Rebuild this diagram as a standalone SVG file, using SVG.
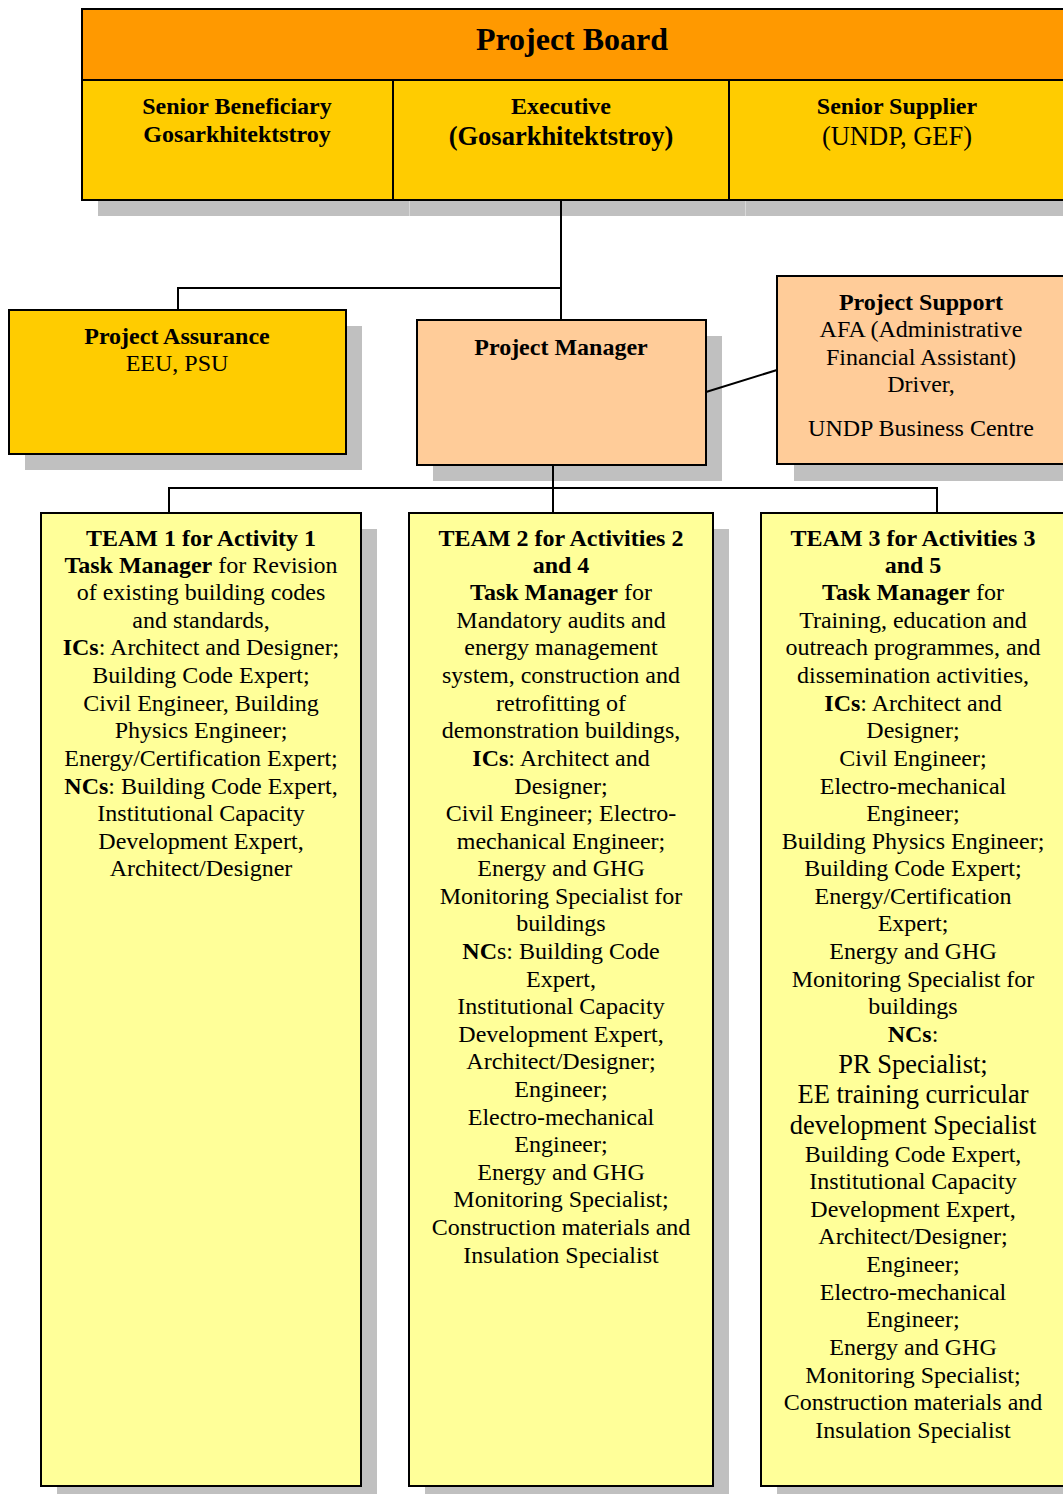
<svg xmlns="http://www.w3.org/2000/svg" width="1063" height="1494" viewBox="0 0 1063 1494">
<style>
text{font-family:"Liberation Serif","Times New Roman",serif;fill:#000;text-anchor:middle}
.b{font-weight:bold}
.t{font-size:24px}
.h{font-size:24px;font-weight:bold}
.big{font-size:26.5px}
.sh{fill:#C0C0C0}
.box{stroke:#000;stroke-width:2}
.ln{stroke:#000;stroke-width:2;fill:none}
</style>
<rect width="1063" height="1494" fill="#fff"/>
<g id="board">
<rect class="sh" x="98" y="200" width="980" height="16"/>
<line x1="409.5" y1="200" x2="409.5" y2="216" stroke="#D8D8D8" stroke-width="1"/>
<line x1="745.5" y1="200" x2="745.5" y2="216" stroke="#D8D8D8" stroke-width="1"/>
<rect class="box" x="82" y="9" width="1000" height="71" fill="#FF9900"/>
<rect class="box" x="82" y="80" width="311" height="120" fill="#FFCC00"/>
<rect class="box" x="393" y="80" width="336" height="120" fill="#FFCC00"/>
<rect class="box" x="729" y="80" width="353" height="120" fill="#FFCC00"/>
<text class="b" x="572" y="50" font-size="32">Project Board</text>
<text class="h" x="237" y="114">Senior Beneficiary</text>
<text class="h" x="237" y="142">Gosarkhitektstroy</text>
<text class="h" x="561" y="114">Executive</text>
<text class="b" x="561" y="145" font-size="26.5">(Gosarkhitektstroy)</text>
<text class="h" x="897" y="114">Senior Supplier</text>
<text x="897" y="145" font-size="26.5">(UNDP, GEF)</text>
</g>
<g id="assurance">
<rect class="sh" x="25" y="326" width="337" height="144"/>
<rect class="box" x="9" y="310" width="337" height="144" fill="#FFCC00"/>
<text class="h" x="177" y="344">Project Assurance</text>
<text class="t" x="177" y="371">EEU, PSU</text>
</g>
<g id="manager">
<rect class="sh" x="433" y="336" width="289" height="145"/>
<rect class="box" x="417" y="320" width="289" height="145" fill="#FFCC99"/>
<text class="h" x="561" y="355">Project Manager</text>
</g>
<g id="support">
<rect class="sh" x="794" y="292" width="290" height="189"/>
<rect class="box" x="777" y="276" width="300" height="188" fill="#FFCC99"/>
<text class="h" x="921" y="310">Project Support</text>
<text class="t" x="921" y="337">AFA (Administrative</text>
<text class="t" x="921" y="365">Financial Assistant)</text>
<text class="t" x="921" y="392">Driver,</text>
<text class="t" x="921" y="436">UNDP Business Centre</text>
</g>
<g id="team1">
<rect class="sh" x="57" y="529" width="320" height="973"/>
<rect class="box" x="41" y="513" width="320" height="973" fill="#FFFF99"/>
<g class="t">
<text x="201" y="546" class="b">TEAM 1 for Activity 1</text>
<text x="201" y="573"><tspan class="b">Task Manager</tspan> for Revision</text>
<text x="201" y="600">of existing building codes</text>
<text x="201" y="628">and standards,</text>
<text x="201" y="655"><tspan class="b">ICs</tspan>: Architect and Designer;</text>
<text x="201" y="683">Building Code Expert;</text>
<text x="201" y="711">Civil Engineer, Building</text>
<text x="201" y="738">Physics Engineer;</text>
<text x="201" y="766">Energy/Certification Expert;</text>
<text x="201" y="794"><tspan class="b">NCs</tspan>: Building Code Expert,</text>
<text x="201" y="821">Institutional Capacity</text>
<text x="201" y="849">Development Expert,</text>
<text x="201" y="876">Architect/Designer</text>
</g>
</g>
<g id="team2">
<rect class="sh" x="425" y="529" width="304" height="973"/>
<rect class="box" x="409" y="513" width="304" height="973" fill="#FFFF99"/>
<g class="t">
<text x="561" y="546" class="b">TEAM 2 for Activities 2</text>
<text x="561" y="573" class="b">and 4</text>
<text x="561" y="600"><tspan class="b">Task Manager</tspan> for</text>
<text x="561" y="628">Mandatory audits and</text>
<text x="561" y="655">energy management</text>
<text x="561" y="683">system, construction and</text>
<text x="561" y="711">retrofitting of</text>
<text x="561" y="738">demonstration buildings,</text>
<text x="561" y="766"><tspan class="b">ICs</tspan>: Architect and</text>
<text x="561" y="794">Designer;</text>
<text x="561" y="821">Civil Engineer; Electro-</text>
<text x="561" y="849">mechanical Engineer;</text>
<text x="561" y="876">Energy and GHG</text>
<text x="561" y="904">Monitoring Specialist for</text>
<text x="561" y="931">buildings</text>
<text x="561" y="959"><tspan class="b">NC</tspan>s: Building Code</text>
<text x="561" y="987">Expert,</text>
<text x="561" y="1014">Institutional Capacity</text>
<text x="561" y="1042">Development Expert,</text>
<text x="561" y="1069">Architect/Designer;</text>
<text x="561" y="1097">Engineer;</text>
<text x="561" y="1125">Electro-mechanical</text>
<text x="561" y="1152">Engineer;</text>
<text x="561" y="1180">Energy and GHG</text>
<text x="561" y="1207">Monitoring Specialist;</text>
<text x="561" y="1235">Construction materials and</text>
<text x="561" y="1263">Insulation Specialist</text>
</g>
</g>
<g id="team3">
<rect class="sh" x="777" y="529" width="306" height="973"/>
<rect class="box" x="761" y="513" width="320" height="973" fill="#FFFF99"/>
<g class="t">
<text x="913" y="546" class="b">TEAM 3 for Activities 3</text>
<text x="913" y="573" class="b">and 5</text>
<text x="913" y="600"><tspan class="b">Task Manager</tspan> for</text>
<text x="913" y="628">Training, education and</text>
<text x="913" y="655">outreach programmes, and</text>
<text x="913" y="683">dissemination activities,</text>
<text x="913" y="711"><tspan class="b">ICs</tspan>: Architect and</text>
<text x="913" y="738">Designer;</text>
<text x="913" y="766">Civil Engineer;</text>
<text x="913" y="794">Electro-mechanical</text>
<text x="913" y="821">Engineer;</text>
<text x="913" y="849">Building Physics Engineer;</text>
<text x="913" y="876">Building Code Expert;</text>
<text x="913" y="904">Energy/Certification</text>
<text x="913" y="931">Expert;</text>
<text x="913" y="959">Energy and GHG</text>
<text x="913" y="987">Monitoring Specialist for</text>
<text x="913" y="1014">buildings</text>
<text x="913" y="1042"><tspan class="b">NCs</tspan>:</text>
<text x="913" y="1073" class="big">PR Specialist;</text>
<text x="913" y="1103" class="big">EE training curricular</text>
<text x="913" y="1134" class="big">development Specialist</text>
<text x="913" y="1162">Building Code Expert,</text>
<text x="913" y="1189">Institutional Capacity</text>
<text x="913" y="1217">Development Expert,</text>
<text x="913" y="1244">Architect/Designer;</text>
<text x="913" y="1272">Engineer;</text>
<text x="913" y="1300">Electro-mechanical</text>
<text x="913" y="1327">Engineer;</text>
<text x="913" y="1355">Energy and GHG</text>
<text x="913" y="1383">Monitoring Specialist;</text>
<text x="913" y="1410">Construction materials and</text>
<text x="913" y="1438">Insulation Specialist</text>
</g>
</g>
<g id="connectors">
<polyline class="ln" points="561,200 561,320"/>
<polyline class="ln" points="178,310 178,288 561,288"/>
<line class="ln" x1="706" y1="392" x2="777" y2="370"/>
<polyline class="ln" points="553,465 553,513"/>
<polyline class="ln" points="169,513 169,488 937,488 937,513"/>
</g>
</svg>
